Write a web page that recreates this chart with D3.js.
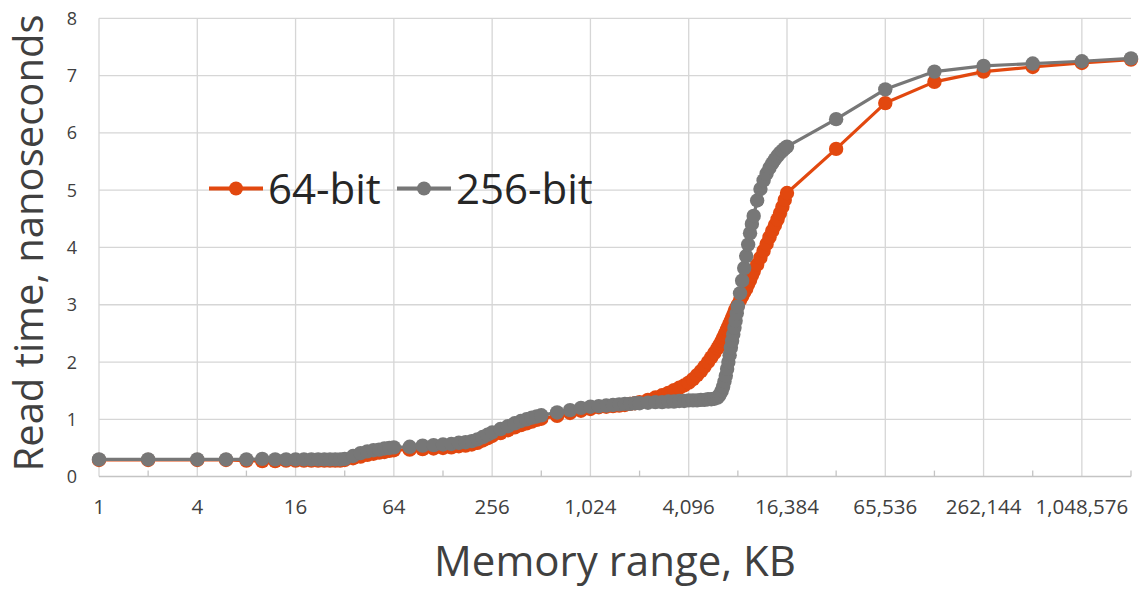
<!DOCTYPE html>
<html>
<head>
<meta charset="utf-8">
<script src="https://cdn.jsdelivr.net/npm/d3@7"></script>
<style>
  body { margin: 0; background: #fff; }
  svg text { font-family: "Open Sans", "DejaVu Sans", sans-serif; fill: #404040; }
</style>
</head>
<body>
<div id="chart"></div>
<script>
// memory range in KB (x) and read time in ns for each series
const sizesKB = [
  1, 2, 4, 6, 8, 10, 12, 14, 16, 18, 20, 22, 24, 26, 28, 30, 32,
  36, 40, 44, 48, 52, 56, 60, 64,
  80, 96, 112, 128, 144, 160, 176, 192, 208, 224, 240, 256,
  288, 320, 352, 384, 416, 448, 480, 512,
  640, 768, 896, 1024,
  1152, 1280, 1408, 1536, 1664, 1792, 1920, 2048,
  2304, 2560, 2816, 3072, 3328, 3584, 3840, 4096,
  4352, 4608, 4864, 5120, 5376, 5632, 5888, 6144, 6272, 6400, 6528, 6656, 6784, 6912, 7040, 7168,
  7296, 7424, 7552, 7680, 7808, 7936, 8064, 8192,
  8448, 8704, 8960, 9216, 9472, 9728, 9984, 10240, 10752, 11264, 11776, 12288,
  12800, 13312, 13824, 14336, 14848, 15360, 15872, 16384,
  32768, 65536, 131072, 262144, 524288, 1048576, 2097152
];

const readTime64 = [
  0.29, 0.29, 0.29, 0.29, 0.28, 0.27, 0.27, 0.28, 0.28, 0.28, 0.28, 0.28, 0.28, 0.28, 0.28, 0.28, 0.29,
  0.32, 0.35, 0.38, 0.40, 0.42, 0.43, 0.45, 0.46,
  0.47, 0.48, 0.49, 0.50, 0.51, 0.53, 0.54, 0.56, 0.59, 0.63, 0.67, 0.71,
  0.76, 0.81, 0.86, 0.90, 0.93, 0.96, 0.99, 1.01,
  1.06, 1.11, 1.15, 1.18,
  1.21, 1.22, 1.23, 1.24, 1.25, 1.27, 1.28, 1.30,
  1.34, 1.38, 1.42, 1.46, 1.51, 1.55, 1.59, 1.64,
  1.70, 1.77, 1.84, 1.92, 2.00, 2.08, 2.16, 2.24, 2.28, 2.32, 2.37, 2.42, 2.47, 2.52, 2.57, 2.62,
  2.67, 2.72, 2.77, 2.82, 2.87, 2.92, 2.96, 3.00,
  3.08, 3.15, 3.22, 3.28, 3.36, 3.43, 3.51, 3.58, 3.70, 3.82, 3.94, 4.06,
  4.18, 4.29, 4.39, 4.49, 4.60, 4.71, 4.83, 4.95,
  5.72, 6.52, 6.89, 7.07, 7.15, 7.22, 7.28
];

const readTime256 = [
  0.30, 0.30, 0.30, 0.30, 0.30, 0.31, 0.30, 0.30, 0.30, 0.30, 0.30, 0.30, 0.30, 0.30, 0.30, 0.30, 0.31,
  0.36, 0.41, 0.44, 0.46, 0.47, 0.49, 0.50, 0.51,
  0.52, 0.54, 0.55, 0.56, 0.57, 0.59, 0.60, 0.62, 0.65, 0.69, 0.73, 0.77,
  0.83, 0.88, 0.93, 0.97, 1.00, 1.03, 1.05, 1.07,
  1.12, 1.16, 1.20, 1.22,
  1.23, 1.24, 1.25, 1.26, 1.27, 1.27, 1.28, 1.28,
  1.29, 1.30, 1.30, 1.31, 1.31, 1.32, 1.32, 1.33,
  1.33, 1.33, 1.34, 1.34, 1.35, 1.35, 1.36, 1.38, 1.41, 1.45, 1.50, 1.57, 1.66, 1.76, 1.88, 2.00,
  2.12, 2.25, 2.37, 2.48, 2.60, 2.72, 2.85, 2.97,
  3.20, 3.42, 3.64, 3.85, 4.05, 4.25, 4.41, 4.55, 4.82, 5.02, 5.17, 5.29,
  5.39, 5.47, 5.54, 5.60, 5.65, 5.69, 5.73, 5.76,
  6.24, 6.76, 7.07, 7.17, 7.21, 7.25, 7.30
];

const seriesNames = ["64-bit", "256-bit"];
const seriesColors = ["#e2480f", "#777777"];

const xTickValues = [1, 4, 16, 64, 256, 1024, 4096, 16384, 65536, 262144, 1048576];
const xMinorTicks = [2, 8, 32, 128, 512, 2048, 8192, 32768, 131072, 524288, 2097152];
const yTickValues = [0, 1, 2, 3, 4, 5, 6, 7, 8];

const width = 1140, height = 593;
const plotLeft = 99, plotRight = 1131, plotTop = 18.3, plotBottom = 476.6;

const svg = d3.select("#chart").append("svg")
  .attr("width", width)
  .attr("height", height);

const x = d3.scaleLog().base(2).domain([1, 2097152]).range([plotLeft, plotRight]);
const y = d3.scaleLinear().domain([0, 8]).range([plotBottom, plotTop]);

// grid
svg.append("g")
  .selectAll("line")
  .data(yTickValues.filter(d => d > 0))
  .enter().append("line")
    .attr("x1", plotLeft).attr("x2", plotRight)
    .attr("y1", d => y(d)).attr("y2", d => y(d))
    .attr("stroke", "#d6d6d6").attr("stroke-width", 1.3);

svg.append("g")
  .selectAll("line")
  .data(xTickValues)
  .enter().append("line")
    .attr("x1", d => x(d)).attr("x2", d => x(d))
    .attr("y1", plotTop).attr("y2", plotBottom)
    .attr("stroke", "#d6d6d6").attr("stroke-width", 1.3);

// x axis line + minor ticks
svg.append("line")
  .attr("x1", plotLeft).attr("x2", plotRight)
  .attr("y1", plotBottom).attr("y2", plotBottom)
  .attr("stroke", "#c4c4c4").attr("stroke-width", 1.5);

svg.append("g")
  .selectAll("line")
  .data(xMinorTicks)
  .enter().append("line")
    .attr("x1", d => x(d)).attr("x2", d => x(d))
    .attr("y1", plotBottom - 6).attr("y2", plotBottom)
    .attr("stroke", "#c4c4c4").attr("stroke-width", 1.3);

// tick labels
const fmt = d3.format(",");
svg.append("g")
  .selectAll("text")
  .data(xTickValues)
  .enter().append("text")
    .attr("x", d => x(d))
    .attr("y", 514)
    .attr("text-anchor", "middle")
    .style("font-size", "20.5px")
    .text(d => fmt(d));

svg.append("g")
  .selectAll("text")
  .data(yTickValues)
  .enter().append("text")
    .attr("x", 77)
    .attr("y", d => y(d))
    .attr("dy", "0.36em")
    .attr("text-anchor", "end")
    .style("font-size", "18px")
    .text(d => d);

// axis titles
svg.append("text")
  .attr("x", 615)
  .attr("y", 576)
  .attr("text-anchor", "middle")
  .style("font-size", "42px")
  .text("Memory range, KB");

svg.append("text")
  .attr("transform", "translate(43,243) rotate(-90)")
  .attr("text-anchor", "middle")
  .style("font-size", "40px")
  .text("Read time, nanoseconds");

// series
const line = d3.line()
  .x(d => x(d[0]))
  .y(d => y(d[1]));

[readTime64, readTime256].forEach((vals, i) => {
  const pts = sizesKB.map((s, j) => [s, vals[j]]);
  const g = svg.append("g");
  g.append("path")
    .datum(pts)
    .attr("fill", "none")
    .attr("stroke", seriesColors[i])
    .attr("stroke-width", 3.2)
    .attr("stroke-linejoin", "round")
    .attr("d", line);
  g.selectAll("circle")
    .data(pts)
    .enter().append("circle")
      .attr("cx", d => x(d[0]))
      .attr("cy", d => y(d[1]))
      .attr("r", 7.2)
      .attr("fill", seriesColors[i]);
});

// legend
const legendX = [209, 397];
const legend = svg.append("g");
seriesNames.forEach((name, i) => {
  legend.append("line")
    .attr("x1", legendX[i]).attr("x2", legendX[i] + 54)
    .attr("y1", 188.5).attr("y2", 188.5)
    .attr("stroke", seriesColors[i]).attr("stroke-width", 4);
  legend.append("circle")
    .attr("cx", legendX[i] + 27).attr("cy", 188.5)
    .attr("r", 7)
    .attr("fill", seriesColors[i]);
  legend.append("text")
    .attr("x", legendX[i] + 59)
    .attr("y", 203.5)
    .style("font-size", "42px")
    .style("fill", "#262626")
    .text(name);
});
</script>
</body>
</html>
